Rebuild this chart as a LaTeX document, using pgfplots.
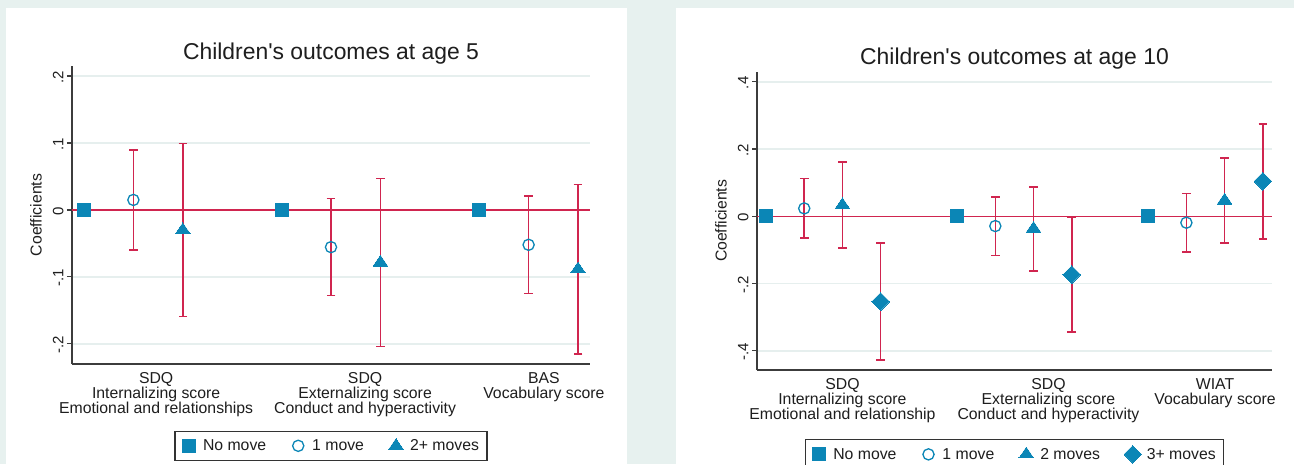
\documentclass[border=0pt]{standalone}
\usepackage{pgfplots}
\usepackage{pgfplotstable}
\pgfplotsset{compat=1.18}
\usepackage{fontspec}
\setmainfont{Liberation Sans}
\definecolor{bgm}{HTML}{E7F1EF}
\definecolor{mk}{HTML}{0B86B6}
\definecolor{ci}{HTML}{D0254F}
\definecolor{gridc}{HTML}{E6EFEE}
\definecolor{axc}{HTML}{3C3C3C}
\definecolor{txt}{HTML}{1E1E1E}
\newcommand\fs[1]{\fontsize{#1}{15.2}\selectfont}

% Age 5 panel
\pgfplotstableread{
x y lo hi
1 0 0 0
5 0 0 0
9 0 0 0
}\Anone
\pgfplotstableread{
x y lo hi
2 0.015 -0.060 0.090
6 -0.0555 -0.128 0.017
10 -0.052 -0.125 0.021
}\Aone
\pgfplotstableread{
x y lo hi
3 -0.030 -0.159 0.099
7 -0.0785 -0.204 0.047
11 -0.0885 -0.215 0.038
}\Atwo
% Age 10 panel
\pgfplotstableread{
x y lo hi
1 0 0 0
6 0 0 0
11 0 0 0
}\Bnone
\pgfplotstableread{
x y lo hi
2 0.0235 -0.065 0.112
7 -0.029 -0.116 0.058
12 -0.019 -0.106 0.068
}\Bone
\pgfplotstableread{
x y lo hi
3 0.0335 -0.095 0.162
8 -0.037 -0.162 0.088
13 0.047 -0.079 0.173
}\Btwo
\pgfplotstableread{
x y lo hi
4 -0.2535 -0.427 -0.080
9 -0.1735 -0.344 -0.003
14 0.104 -0.067 0.275
}\Bthree

\pgfplotsset{
  panel/.style={
    anchor=south west, scale only axis, clip=false,
    axis lines=left, axis line style={-, axc, line width=1.2pt},
    xtick style={draw=none},
    ytick style={axc, line width=1.1pt},
    tick align=outside, major tick length=5pt,
    ymajorgrids, major grid style={gridc, line width=1.5pt},
    yticklabel style={rotate=90, anchor=south, font=\fs{15}, text=txt, xshift=-1pt},
    xticklabel style={align=center, font=\fs{15.8}, text=txt, yshift=0pt},
    every axis y label/.style={at={(axis description cs:0,0.5)}, anchor=center, xshift=-36pt, rotate=90, font=\fs{15.8}, text=txt},
    every axis title/.style={at={(axis description cs:0.5,1)}, anchor=base, yshift=6.7pt, font=\fs{22.9}, text=txt},
    ylabel={Coefficients},
    legend columns=-1,
    legend image code/.code={\path[draw=none,fill=none] (-1pt,0pt) rectangle (19pt,0pt); \draw[##1] plot coordinates {(7pt,0pt)};},
    legend style={anchor=north, draw=black!80, line width=1.1pt, font=\fs{15.8}, text=txt,
      inner xsep=6pt, inner ysep=6pt,
      /tikz/every even column/.append style={column sep=22pt}},
  },
  nomove/.style={only marks, mark=square*, mark size=6.5pt, mark options={fill=mk, draw=mk, line width=0pt}},
  onemove/.style={only marks, mark=o, mark size=5.6pt, mark options={draw=mk, line width=1.3pt}},
  twomove/.style={only marks, mark=triangle*, mark size=8.5pt, mark options={fill=mk, draw=mk, line width=0pt, yscale=0.85}},
  threemove/.style={only marks, mark=square*, mark size=6.2pt, mark options={fill=mk, draw=mk, line width=0pt, rotate=45}},
  cibar/.style={forget plot, draw=none, mark=none,
    error bars/.cd, y dir=both, y explicit,
    error bar style={draw=ci, line width=1.6pt},
    error mark options={rotate=90, draw=ci, line width=1.6pt, mark size=4.3pt}},
}

\begin{document}
\begin{tikzpicture}[x=1pt,y=1pt]
\clip (0,0) rectangle (1294,464);
\fill[bgm] (0,0) rectangle (1294,464);
\fill[white] (6,0) rectangle (627,456);
\fill[white] (676,0) rectangle (1294,456);

\begin{axis}[panel,
  at={(72pt,100pt)}, width=518pt, height=298pt,
  xmin=0.757, xmax=11.243, ymin=-0.23, ymax=0.215,
  ytick={-0.2,-0.1,0,0.1,0.2}, yticklabels={-.2,-.1,0,.1,.2},
  xtick={2.46,6.69,10.31},
  xticklabels={{SDQ\\Internalizing score\\Emotional and relationships},{SDQ\\Externalizing score\\Conduct and hyperactivity},{BAS\\Vocabulary score}},
  title={Children\textquotesingle s outcomes at age 5},
  legend style={at={(0.5,-0.2248)}},
]
\addplot[forget plot, ci, line width=1.5pt] coordinates {(0.757,0) (11.243,0)};
\addplot[nomove] table[x=x,y=y] {\Anone};
\addlegendentry{No move}
\addplot[onemove] table[x=x,y=y] {\Aone};
\addlegendentry{1 move}
\addplot[twomove] table[x=x,y=y] {\Atwo};
\addlegendentry{2+ moves}
\addplot[cibar] table[x=x, y=y, y error plus expr=\thisrow{hi}-\thisrow{y}, y error minus expr=\thisrow{y}-\thisrow{lo}] {\Aone};
\addplot[cibar] table[x=x, y=y, y error plus expr=\thisrow{hi}-\thisrow{y}, y error minus expr=\thisrow{y}-\thisrow{lo}] {\Atwo};
\end{axis}

\begin{axis}[panel,
  at={(757pt,94pt)}, width=515pt, height=298.3pt,
  xmin=0.764, xmax=14.24, ymin=-0.457, ymax=0.43,
  ytick={-0.4,-0.2,0,0.2,0.4}, yticklabels={-.4,-.2,0,.2,.4},
  xtick={3.0,8.39,12.75},
  xticklabels={{SDQ\\Internalizing score\\Emotional and relationship},{SDQ\\Externalizing score\\Conduct and hyperactivity},{WIAT\\Vocabulary score}},
  title={Children\textquotesingle s outcomes at age 10},
  legend style={at={(0.5,-0.2315)}},
]
\addplot[forget plot, ci, line width=1.5pt] coordinates {(0.764,0) (14.24,0)};
\addplot[nomove] table[x=x,y=y] {\Bnone};
\addlegendentry{No move}
\addplot[onemove] table[x=x,y=y] {\Bone};
\addlegendentry{1 move}
\addplot[twomove] table[x=x,y=y] {\Btwo};
\addlegendentry{2 moves}
\addplot[threemove] table[x=x,y=y] {\Bthree};
\addlegendentry{3+ moves}
\addplot[cibar] table[x=x, y=y, y error plus expr=\thisrow{hi}-\thisrow{y}, y error minus expr=\thisrow{y}-\thisrow{lo}] {\Bone};
\addplot[cibar] table[x=x, y=y, y error plus expr=\thisrow{hi}-\thisrow{y}, y error minus expr=\thisrow{y}-\thisrow{lo}] {\Btwo};
\addplot[cibar] table[x=x, y=y, y error plus expr=\thisrow{hi}-\thisrow{y}, y error minus expr=\thisrow{y}-\thisrow{lo}] {\Bthree};
\end{axis}
\end{tikzpicture}
\end{document}
